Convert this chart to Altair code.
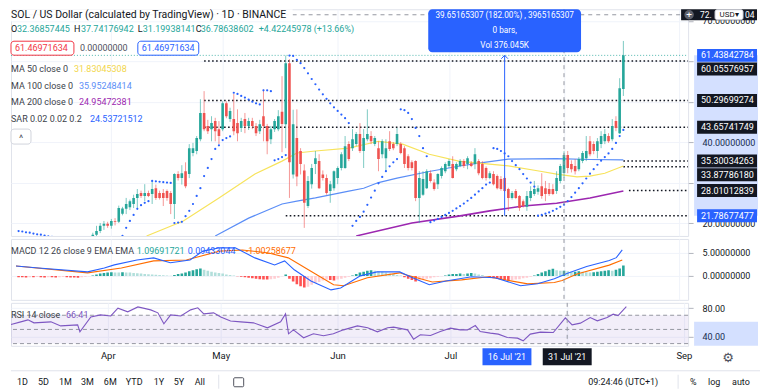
import altair as alt
import pandas as pd

FONT = "Roboto"
W = 678
HP, HM, HR = 227, 61, 43
X_DOMAIN = [-25.7, 154.1]
PRICE_DOMAIN = [16.8, 72.84]
MACD_DOMAIN = [-5.13, 7.9]
RSI_DOMAIN = [26.9, 87.5]

GREEN, RED, BLUE, INK, GRID = "#26a69a", "#ef5350", "#2962ff", "#131722", "#f0f3fa"

# ---------------- daily candles, day offsets counted from 1 Apr 2021 ----------------
FIRST_DAY = -25
opens = [13.5, 14.0, 15.0, 15.4, 15.2, 16.0, 15.3, 14.9, 14.6, 15.2, 15.5, 15.1, 14.5, 14.2, 13.8, 13.4, 13.7, 14.3, 14.8, 15.5, 16.3,
         17.1, 18.0, 19.3, 19.8, 19.3, 20.5, 20.3, 22.3, 23.5, 23.9, 24.7, 26.2, 27.4, 26.7,
         27.4, 27.2, 28.6, 27.4, 27.4, 27.9, 27.4, 24.7, 32.1, 31.1,
         32.8, 32.1, 37.3, 37.8, 40.7, 47.2, 44.0, 43.2, 45.2, 43.2,
         43.2, 49.6, 45.7, 45.7, 44.7, 43.5, 45.7, 44.0, 45.2, 44.0,
         42.7, 46.4, 44.0, 40.7, 43.2, 43.2, 47.5, 44.4, 59.5, 32.0,
         41.0, 37.8, 33.0, 24.2, 29.6, 34.6, 35.3, 32.0, 31.1, 27.9,
         28.6, 31.1, 33.6, 33.6, 39.5, 38.5, 39.5, 42.0, 37.8, 40.7,
         41.5, 39.5, 38.5, 37.0, 36.0, 40.2, 39.5, 39.5, 39.5, 38.5,
         36.5, 35.0, 35.3, 26.2, 27.0, 28.6, 32.3, 30.0, 29.6, 31.6,
         32.8, 34.1, 34.6, 33.3, 34.1, 35.3, 34.6, 34.8, 34.6, 35.3,
         34.6, 33.6, 31.1, 32.1, 31.6, 30.9, 31.1, 28.4, 26.2, 27.9,
         26.7, 25.4, 24.0, 26.2, 27.2, 27.7, 29.1, 28.6, 28.4, 28.4,
         27.9, 30.4, 32.37, 36.8, 34.6, 34.1, 33.3, 35.3, 36.0, 40.2,
         39.5, 37.8, 39.5, 40.2, 41.5, 40.7, 45.2, 42.2, 53.1]
highs = [14.3, 15.2, 16.0, 16.3, 16.5, 16.6, 16.1, 15.4, 15.6, 16.0, 16.2, 15.5, 15.0, 14.6, 14.3, 14.0, 14.6, 15.0, 15.8, 16.6, 17.6,
         19.3, 20.0, 20.5, 20.3, 21.0, 21.2, 24.3, 24.0, 26.2, 25.8, 27.0, 28.4, 28.0, 29.6,
         28.0, 30.4, 29.5, 28.0, 28.4, 28.3, 27.9, 32.3, 32.8, 34.3,
         35.0, 39.5, 39.8, 41.5, 50.6, 52.6, 45.5, 46.4, 46.0, 45.2,
         50.1, 50.1, 48.5, 51.9, 48.1, 46.0, 47.2, 46.0, 46.0, 44.7,
         45.5, 53.0, 44.5, 44.0, 45.7, 47.9, 56.3, 61.4, 60.5, 48.0,
         48.1, 38.5, 34.5, 31.6, 34.6, 37.8, 37.0, 33.0, 32.0, 30.4,
         33.0, 34.0, 37.5, 41.5, 40.2, 43.2, 42.5, 44.7, 43.2, 48.1,
         42.7, 41.5, 40.2, 40.7, 40.7, 42.7, 40.0, 43.5, 40.0, 39.0,
         37.0, 35.5, 35.5, 32.8, 32.8, 33.3, 33.0, 30.8, 32.3, 34.0,
         35.0, 35.8, 36.5, 35.0, 35.8, 35.8, 36.5, 35.3, 38.5, 35.8,
         35.3, 34.0, 32.8, 32.8, 32.0, 31.6, 31.5, 28.7, 27.9, 28.4,
         26.9, 25.8, 27.9, 29.1, 30.4, 29.3, 32.3, 30.4, 29.9, 29.6,
         32.8, 34.6, 37.74, 37.8, 35.5, 35.8, 36.3, 37.8, 41.5, 41.5,
         40.2, 41.0, 42.7, 43.2, 42.2, 45.7, 46.4, 55.8, 65.0]
lows = [13.0, 13.8, 14.5, 14.9, 14.8, 15.0, 14.6, 14.0, 14.3, 14.8, 15.0, 14.2, 13.8, 13.5, 13.0, 12.9, 13.4, 13.9, 14.5, 15.2, 16.0,
        16.6, 17.5, 18.3, 18.8, 18.6, 19.4, 20.0, 21.9, 22.2, 23.2, 23.7, 23.7, 26.2, 25.4,
        26.4, 24.7, 25.7, 25.8, 24.2, 25.5, 22.2, 21.0, 30.5, 29.5,
        28.6, 31.1, 36.5, 37.0, 40.2, 42.7, 42.0, 40.2, 40.2, 39.5,
        42.7, 45.9, 45.0, 41.7, 40.2, 42.5, 42.2, 43.0, 43.2, 41.5,
        42.0, 40.2, 37.0, 39.5, 42.5, 42.7, 37.5, 38.5, 26.2, 31.0,
        29.1, 32.0, 18.8, 23.7, 28.5, 32.1, 28.4, 30.5, 27.0, 25.0,
        28.0, 29.6, 33.0, 33.4, 35.3, 37.8, 39.0, 37.3, 33.6, 40.2,
        39.5, 39.0, 32.8, 36.0, 32.8, 37.8, 38.0, 39.0, 37.0, 33.6,
        33.0, 33.0, 25.4, 20.0, 26.7, 28.4, 30.0, 28.0, 28.4, 31.0,
        32.3, 33.6, 31.0, 32.8, 33.8, 33.6, 33.3, 33.8, 33.3, 31.8,
        30.8, 30.5, 30.8, 29.3, 28.3, 28.0, 27.6, 23.0, 25.8, 25.9,
        23.0, 23.8, 23.0, 25.4, 26.7, 27.0, 26.0, 25.4, 26.7, 26.9,
        27.2, 29.8, 31.20, 32.3, 32.5, 32.0, 32.8, 34.8, 35.3, 36.5,
        37.0, 36.0, 38.5, 39.5, 39.8, 40.2, 42.7, 42.0, 51.4]
closes = [14.0, 15.0, 15.4, 15.2, 16.0, 15.3, 14.9, 14.6, 15.2, 15.5, 15.1, 14.5, 14.2, 13.8, 13.4, 13.7, 14.3, 14.8, 15.5, 16.3, 17.1,
          18.0, 19.3, 19.8, 19.3, 20.5, 20.3, 23.7, 23.6, 24.7, 25.4, 26.2, 27.2, 26.7, 27.4,
          26.7, 28.4, 26.2, 26.2, 26.2, 26.2, 24.7, 32.1, 31.1, 32.3,
          29.1, 38.5, 38.5, 41.0, 47.2, 43.2, 42.7, 44.7, 42.7, 41.5,
          49.6, 46.4, 47.7, 42.7, 42.2, 45.2, 44.0, 45.2, 44.0, 42.2,
          44.4, 44.0, 40.2, 43.2, 45.2, 46.4, 44.5, 59.5, 35.0, 44.4,
          31.5, 34.6, 25.0, 30.4, 33.6, 36.0, 28.6, 31.1, 27.4, 29.6,
          32.8, 33.6, 37.0, 39.0, 35.8, 40.7, 42.0, 37.8, 41.0, 42.0,
          40.2, 41.0, 35.8, 40.2, 38.5, 38.3, 38.5, 42.0, 37.3, 34.6,
          33.6, 33.6, 26.2, 31.1, 30.9, 32.8, 30.4, 28.4, 32.1, 33.6,
          34.6, 35.3, 31.1, 34.6, 35.3, 34.1, 36.0, 34.1, 37.0, 32.3,
          31.1, 31.1, 32.3, 29.6, 28.6, 28.4, 27.9, 26.2, 27.4, 26.2,
          23.7, 24.2, 26.7, 27.9, 28.4, 28.6, 26.7, 27.2, 27.2, 27.2,
          31.1, 34.1, 36.79, 33.6, 33.3, 32.8, 35.8, 37.3, 37.8, 37.0,
          37.8, 40.2, 41.5, 42.0, 40.2, 44.0, 43.5, 53.3, 61.43842784]
sar_values = [18.0, 17.9, 17.7, 17.6, 17.4, 17.2, 17.1, 16.9, 16.7,
              16.6, 16.5, 16.4, 16.3, 16.2, 16.1, 16.0, 15.9, 15.8,
              12.9, 13.0, 13.2, 13.4, 13.7, 14.1, 14.6, 15.2, 15.8, 16.3,
              16.8, 18.8, 20.5, 22.0, 23.5, 24.4, 25.0, 25.4,
              30.4, 30.3, 30.2, 30.1, 30.0, 29.9,
              20.0, 20.1, 20.3,
              21.7, 23.0, 24.7, 26.7, 28.6, 31.6, 33.6, 35.8, 38.3, 39.2,
              40.5, 41.0, 41.4,
              52.2, 51.9, 51.4, 51.0, 50.5, 50.0, 49.6, 49.3,
              52.8, 52.8, 52.6,
              35.5, 35.8, 36.3, 36.8,
              61.4, 61.3, 60.3, 59.5, 58.3, 57.0, 55.6, 54.3, 53.0, 51.8, 50.7, 49.6, 48.6, 47.7, 46.8, 45.9, 44.7,
              19.3, 20.5, 21.5, 22.8, 24.5, 26.3, 28.0, 29.8, 31.4, 32.8, 34.0, 35.0, 35.8,
              48.1, 47.9, 47.2, 45.7, 43.5, 41.5, 38.5, 36.5,
              20.2, 20.6, 21.0, 21.5, 22.0, 22.5, 23.0, 23.6, 24.2, 24.8, 25.5, 26.2, 27.0, 27.8, 28.6, 29.5, 30.0,
              38.5, 38.3, 37.8, 37.2, 36.5, 35.3, 34.3, 33.3, 32.1, 31.0, 30.0, 29.0,
              21.8, 22.0, 22.3, 22.6, 23.0, 23.5, 24.0, 24.54, 25.4, 26.4, 27.5, 28.6, 29.8, 31.0, 32.2, 33.3,
              34.4, 35.4, 36.3, 37.2, 38.3, 39.8, 41.5, 43.0]
macd_hist = [-0.3, -0.3, -0.35, -0.3, -0.3, -0.25, -0.3,
             -0.35, -0.3, -0.3, -0.35, -0.3, -0.25, -0.3, -0.35,
             -0.35, -0.4, -0.3, -0.2, -0.1,
             0.1, 0.3, 0.5, 0.6, 0.7,
             0.8, 0.75, 0.7, 0.8, 0.75, 0.7, 0.6,
             0.55, 0.5, 0.4, 0.35, 0.3, 0.25, 0.2, 0.15, 0.1,
             0.05, 0.2, 0.4, 0.5,
             0.7, 1.0, 1.2, 1.4, 1.6,
             1.3, 1.1, 0.9, 0.7, 0.6, 0.5, 0.3,
             0.2, 0.1, -0.1, -0.2,
             -0.3, -0.4, -0.5, -0.6, -0.7, -0.75, -0.8, -0.7, -0.6,
             -0.4, -0.1, 0.3,
             -0.6, -1.2, -1.8, -2.2, -2.5, -2.3,
             -1.9, -1.5, -1.3, -1.0, -0.8,
             -0.9, -1.0, -0.8, -0.6,
             -0.4, -0.2, 0.1, 0.4,
             0.7, 0.9, 1.1, 1.2, 1.1, 1.0, 0.9,
             0.7, 0.5, 0.4, 0.2, 0.1,
             -0.3, -0.6, -0.9, -1.2, -1.0, -0.8,
             -0.6, -0.5, -0.3, -0.2, -0.1, 0.1,
             0.3, 0.4, 0.4, 0.5, 0.4, 0.5, 0.6,
             0.5, 0.3, 0.2, 0.0,
             -0.3, -0.5, -0.6, -0.8, -0.9, -1.0, -0.9,
             -0.8, -0.7, -0.5, -0.4, -0.2, 0.1,
             0.4, 0.7, 1.0, 1.3, 1.5,
             1.2, 1.1, 1.1, 1.0, 0.9,
             0.9, 1.0, 0.9, 0.8, 0.7, 0.8, 0.9,
             1.0, 1.1, 1.2, 1.1, 1.3, 1.6, 2.2]

# ---------------- indicator lines (read at sample days) ----------------
ma50_days = [9.5, 19.4, 29, 38.7, 46, 50, 55, 64, 72, 78.5, 85.7, 93.6, 99, 107, 115.6, 120, 125.5, 129, 133, 138]
ma50_values = [16.8, 20.5, 26.2, 32.1, 35.3, 37.3, 37.8, 38.5, 40.2, 39.5, 37.0, 35.3, 34.8, 34.1, 32.8, 32.1, 31.4, 31.6, 32.3, 34.1]
ma100_days = [28, 37, 46, 50, 55, 64, 68, 72, 77, 86, 94, 99, 107, 120, 129, 138]
ma100_values = [16.8, 21.2, 24.7, 25.4, 26.2, 27.9, 28.6, 30.0, 31.1, 32.8, 34.1, 34.8, 35.8, 35.9, 35.7, 35.6]
ma200_days = [66, 81, 93.6, 102, 111, 120, 129, 138]
ma200_values = [16.8, 20.0, 21.7, 23.0, 24.2, 24.9, 26.2, 27.9]

macd_days = [-25.7, -19.6, -6.4, -1.9, 0.8, 6.9, 11.4, 15.9, 21.2, 24.7, 29.2, 33.4, 38.7, 44.0, 46.7, 49.3, 53.8, 59.2,
             61.8, 67.1, 71.6, 77.7, 81.2, 85.7, 90.2, 97.1, 103.4, 110.3, 114.9, 119.4, 122.8, 128.1, 134.2, 136.1, 137.7]
macd_values = [2.1, 1.7, 0.85, 1.7, 2.35, 3.4, 3.85, 2.8, 3.4, 5.3, 6.0, 6.0, 3.85, 2.35, 3.2, 1.3, -1.1, -3.0,
               -2.6, 0.0, 0.85, 0.85, -0.4, -1.9, -1.1, -0.2, -0.4, -2.1, -1.7, -0.6, 0.5, 2.0, 3.3, 3.9, 5.55]
signal_days = [-25.7, -6.4, 2.7, 11.4, 20.2, 29.2, 35.3, 42.4, 47.7, 53.1, 59.9, 62.6, 69.0, 77.7, 79.6, 86.5, 94.4,
               101.6, 112.2, 119.4, 121.5, 125.5, 134.2, 137.7]
signal_values = [2.1, 0.65, 1.7, 3.2, 3.4, 5.3, 5.55, 4.9, 3.85, 1.3, -1.9, -2.1, -0.4, 0.65, 0.2, -1.3, -0.85,
                 -0.2, -1.7, -1.4, -1.0, 0.4, 2.3, 3.4]
rsi_days = [-25.7, -23.1, -21.2, -19.6, -15.1, -12.5, -8.0, -7.4, -4.5, -1.9, 0.8, 2.7, 5.3, 8.0, 11.4, 13.3, 14.9,
            16.7, 19.4, 22.0, 23.9, 25.5, 28.1, 30.0, 32.6, 35.3, 38.7, 42.4, 45.9, 47.2, 48.0, 49.3, 52.0, 54.6,
            57.3, 59.9, 62.6, 66.3, 69.0, 71.6, 74.3, 75.9, 79.6, 81.2, 83.0, 85.7, 88.3, 91.0, 93.6, 95.5, 97.6,
            98.9, 101.6, 103.7, 106.1, 108.8, 110.3, 112.2, 114.9, 118.3, 121.5, 123.3, 125.5, 128.1, 130.0, 132.6,
            134.2, 135.5, 137.7]
rsi_values = [57, 60.7, 63.5, 59.3, 60.7, 55, 56.5, 46.6, 67.7, 70.5, 69, 80, 74.8, 81.8, 77.6, 73.4, 58,
              70.5, 69, 77.6, 80.5, 71.9, 73.4, 67.7, 62, 60.7, 59.3, 52.3, 60.7, 72, 43.8, 49.4, 38.2, 43.8,
              41, 43.8, 49.4, 55, 52.3, 46.6, 52.3, 53.2, 49.4, 36.3, 42.4, 41.4, 47, 51.8, 49.4, 49.4, 55.5,
              47, 44.8, 43.4, 38.6, 37.7, 33.9, 43.4, 46.2, 45.6, 66.4, 56.5, 58.9, 66.8, 62.1, 66.8,
              71.5, 69.6, 82.3]
rsi_levels = [70, 50, 30]

# ---------------- axis ticks and drawings ----------------
month_days = [0, 30, 61, 91, 122, 153]
month_names = ["Apr", "May", "Jun", "Jul", "", "Sep"]
level_values = [60.05576957, 50.29699274, 43.65741749, 35.30034263, 33.87786180, 28.01012839, 21.78677477]
level_starts = [25, 25, 25, 138, 138, 139.5, 47]
measure_day = 106
cross_day = 122
cross_price = 71.48

# ---------------- tables ----------------
days = list(range(FIRST_DAY, FIRST_DAY + len(opens)))
candles = pd.DataFrame({"d": days, "open": opens, "high": highs, "low": lows, "close": closes,
                        "sar": sar_values, "hist": macd_hist})
candles["col"] = [GREEN if c >= o else RED for o, c in zip(opens, closes)]
hcols = []
prev = 0.0
for h in macd_hist:
    if h >= 0:
        hcols.append("#26a69a" if h >= prev else "#b2dfdb")
    else:
        hcols.append("#ff5252" if h <= prev else "#ffcdd2")
    prev = h
candles["hcol"] = hcols

last_price = closes[-1]
levels = pd.DataFrame({"level": level_values, "start": level_starts})
boxes = pd.DataFrame({"level": [last_price] + level_values})
boxes["text"] = [f"{v:.8f}" for v in boxes["level"]]
boxes["fill"] = [BLUE if v in (last_price, level_values[-1]) else INK for v in boxes["level"]]
shifted = [level_values[0], level_values[4]]
boxes_main = boxes[~boxes["level"].isin(shifted)]
boxes_shift = boxes[boxes["level"].isin(shifted)]
measure = pd.DataFrame({"d": [measure_day], "lo": [level_values[-1]], "hi": [last_price]})
cross_d = pd.DataFrame({"d": [cross_day]})
one = pd.DataFrame({"k": [0]})

# ---------------- scales / axes ----------------
xscale = alt.Scale(domain=X_DOMAIN, nice=False, zero=False)
label_expr = "".join(f"datum.value == {d} ? '{n}' : " for d, n in zip(month_days, month_names)) + "''"
x_hidden = alt.Axis(values=month_days, grid=True, gridColor=GRID, labels=False, ticks=False, domain=False,
                    title=None, minExtent=0, maxExtent=0)
x_bottom = alt.Axis(values=month_days, grid=True, gridColor=GRID, labelExpr=label_expr, ticks=False, domain=False,
                    title=None, labelPadding=5, labelFontSize=9.5, labelColor=INK, labelFont=FONT,
                    labelFlush=False, minExtent=16, maxExtent=16)


def X(field, axis):
    return alt.X(f"{field}:Q", scale=xscale, axis=axis)


def right_axis(values, expr):
    return alt.Axis(orient="right", values=values, labelExpr=expr, grid=True, gridColor=GRID, domain=False,
                    tickSize=5, tickColor="#b2b5be", labelColor=INK, labelFontSize=9, labelFont=FONT,
                    labelPadding=9, title=None, minExtent=69, maxExtent=69)


price_axis = right_axis([20, 30, 40, 50, 60, 70],
                       "indexof([20, 40, 70], datum.value) >= 0 ? format(datum.value, '.8f') : ''")
macd_axis = right_axis([0, 5], "format(datum.value, '.8f')")
rsi_axis = right_axis([40, 80], "format(datum.value, '.2f')")


def PY(field):
    return alt.Y(f"{field}:Q", scale=alt.Scale(domain=PRICE_DOMAIN, nice=False, zero=False), axis=price_axis)


def MY(field):
    return alt.Y(f"{field}:Q", scale=alt.Scale(domain=MACD_DOMAIN, nice=False, zero=False), axis=macd_axis, stack=None)


def RY(field):
    return alt.Y(f"{field}:Q", scale=alt.Scale(domain=RSI_DOMAIN, nice=False, zero=False), axis=rsi_axis)


def note(text, x, y, color=INK, size=9, align="left", font=FONT, weight="normal"):
    return alt.Chart(one).mark_text(text=text, align=align, baseline="middle", fontSize=size, font=font,
                                    color=color, fontWeight=weight).encode(x=alt.value(x), y=alt.value(y))


def box(x1, x2, y1, y2, fill, stroke=None, radius=0, opacity=1.0):
    kw = dict(fill=fill, cornerRadius=radius, opacity=opacity)
    if stroke:
        kw.update(stroke=stroke, strokeWidth=1)
    return alt.Chart(one).mark_rect(**kw).encode(x=alt.value(x1), x2=alt.value(x2), y=alt.value(y1), y2=alt.value(y2))


def line(xs, ys, color, width=1.1):
    df = pd.DataFrame({"d": xs, "v": ys})
    return alt.Chart(df).mark_line(color=color, strokeWidth=width, clip=True).encode(x=X("d", x_hidden), y=PY("v"))


# ---------------- price pane ----------------
p_layers = [
    alt.Chart(boxes.head(1)).mark_rule(color=GREEN, strokeDash=[1, 2], strokeWidth=1, opacity=0.8).encode(
        x=alt.value(0), x2=alt.value(W), y=PY("level")),
    alt.Chart(levels).mark_rule(color=INK, strokeDash=[1.6, 2.4], strokeWidth=1.5, clip=True).encode(
        x=X("start", x_hidden), x2=alt.value(W), y=PY("level")),
    line(ma200_days, ma200_values, "#9c27b0", 1.6),
    line(ma100_days, ma100_values, "#5b8ef7", 1.2),
    line(ma50_days, ma50_values, "#f7e35c", 1.2),
    alt.Chart(candles).mark_rule(strokeWidth=1, opacity=0.6, clip=True).encode(
        x=X("d", x_hidden), y=PY("low"), y2="high:Q", color=alt.Color("col:N", scale=None)),
    alt.Chart(candles).mark_bar(size=2.6, opacity=1, clip=True).encode(
        x=X("d", x_hidden), y=PY("open"), y2="close:Q", color=alt.Color("col:N", scale=None)),
    alt.Chart(candles).mark_circle(size=5, opacity=1, color=BLUE, clip=True).encode(x=X("d", x_hidden), y=PY("sar")),
    alt.Chart(measure).mark_rule(color=BLUE, strokeWidth=1).encode(x=X("d", x_hidden), y=PY("lo"), y2="hi:Q"),
    alt.Chart(measure).mark_point(shape="M-1,1L0,0L1,1", filled=False, color=BLUE, strokeWidth=1, size=45,
                                  opacity=1).encode(x=X("d", x_hidden), y=PY("hi")),
    alt.Chart(cross_d).mark_rule(color="#9598a1", strokeDash=[4, 4], strokeWidth=1).encode(x=X("d", x_hidden)),
    alt.Chart(pd.DataFrame({"p": [cross_price]})).mark_rule(color="#9598a1", strokeDash=[4, 4],
                                                            strokeWidth=1).encode(y=PY("p")),
    # measure label
    alt.Chart(measure).mark_tick(orient="horizontal", size=153, thickness=43, color=BLUE, opacity=1,
                                 cornerRadius=4).encode(x=X("d", x_hidden), y=alt.value(21.5)),
    alt.Chart(measure).mark_text(text="39.65165307 (182.00%) , 3965165307", color="white", fontSize=8.2,
                                 font=FONT).encode(x=X("d", x_hidden), y=alt.value(7)),
    alt.Chart(measure).mark_text(text="0 bars,", color="white", fontSize=8.2, font=FONT).encode(
        x=X("d", x_hidden), y=alt.value(22)),
    alt.Chart(measure).mark_text(text="Vol 376.045K", color="white", fontSize=8.2, font=FONT).encode(
        x=X("d", x_hidden), y=alt.value(37)),
    # legend (white backing under the title, as the crosshair passes behind it)
    box(0, 282, 0, 12, "white", None, 0, 0.9),
    note("SOL / US Dollar (calculated by TradingView) · 1D · BINANCE", 0, 6, INK, 10.5),
    note("O", 0, 20, INK), note("32.36857445", 6, 20, GREEN),
    note("H", 63, 20, INK), note("37.74176942", 70, 20, GREEN),
    note("L", 127, 20, INK), note("31.19938141", 132, 20, GREEN),
    note("C", 185, 20, INK), note("36.78638602", 190, 20, GREEN),
    note("+4.42245978 (+13.66%)", 248, 20, GREEN),
    box(0, 63, 32, 46, "white", "#f23645", 3), note("61.46971634", 4, 39, "#f23645"),
    note("0.00000000", 69, 39, "#50535e"),
    box(127, 188, 32, 46, "white", BLUE, 3), note("61.46971634", 131, 39, BLUE),
    note("MA 50 close 0", 0, 60, "#3b3f4a"), note("31.83045308", 63, 60, "#f2d64b"),
    note("MA 100 close 0", 0, 77, "#3b3f4a"), note("35.95248414", 68, 77, "#5b8ef7"),
    note("MA 200 close 0", 0, 93, "#3b3f4a"), note("24.95472381", 68, 93, "#9c27b0"),
    note("SAR 0.02 0.02 0.2", 0, 110, "#3b3f4a"), note("24.53721512", 79, 110, BLUE),
    box(0, 20, 120, 135, "white", "#d1d4dc", 3), note("^", 10, 129, "#50535e", 10, "center"),
    # price scale decorations
    alt.Chart(measure).mark_rect(color=BLUE, opacity=0.2).encode(
        x=alt.value(W + 6), x2=alt.value(W + 70), y=PY("lo"), y2="hi:Q"),
    alt.Chart(boxes_main).mark_tick(orient="horizontal", size=60, thickness=13, opacity=1).encode(
        x=alt.value(W + 39), y=PY("level"), color=alt.Color("fill:N", scale=None)),
    alt.Chart(boxes_main).mark_text(align="left", color="white", fontSize=9, font=FONT).encode(
        x=alt.value(W + 13), y=PY("level"), text="text:N"),
    alt.Chart(boxes_shift).mark_tick(orient="horizontal", size=60, thickness=13, opacity=1, yOffset=8).encode(
        x=alt.value(W + 39), y=PY("level"), color=alt.Color("fill:N", scale=None)),
    alt.Chart(boxes_shift).mark_text(align="left", color="white", fontSize=9, font=FONT, yOffset=8).encode(
        x=alt.value(W + 13), y=PY("level"), text="text:N"),
    alt.Chart(pd.DataFrame({"p": [cross_price]})).mark_tick(orient="horizontal", size=76, thickness=11,
                                                            color=INK, opacity=1).encode(
        x=alt.value(W + 31), y=PY("p")),
    note("72.", W + 12, 5.5, "white", 8.5), note("04", W + 57, 5.5, "white", 8.5),
    box(W + 27, W + 55, 0.5, 10.5, "white", "#d1d4dc", 2), note("USD▾", W + 41, 5.5, INK, 8, "center"),
    alt.Chart(one).mark_point(shape="circle", filled=True, color="#5d606b", size=90, opacity=1).encode(
        x=alt.value(W + 1), y=alt.value(5.5)),
    note("+", W + 1, 5.5, "white", 10, "center"),
]
price = alt.layer(*p_layers).properties(width=W, height=HP)

# ---------------- MACD pane ----------------
m_layers = [
    alt.Chart(candles).mark_bar(size=2.6, opacity=1, clip=True).encode(
        x=X("d", x_hidden), y=MY("hist"), color=alt.Color("hcol:N", scale=None)),
    alt.Chart(pd.DataFrame({"d": signal_days, "v": signal_values})).mark_line(
        color="#ff6d00", strokeWidth=1.1, clip=True).encode(x=X("d", x_hidden), y=MY("v")),
    alt.Chart(pd.DataFrame({"d": macd_days, "v": macd_values})).mark_line(
        color=BLUE, strokeWidth=1.1, clip=True).encode(x=X("d", x_hidden), y=MY("v")),
    alt.Chart(cross_d).mark_rule(color="#9598a1", strokeDash=[4, 4], strokeWidth=1).encode(x=X("d", x_hidden)),
    note("MACD 12 26 close 9 EMA EMA", 0, 12, "#3b3f4a"),
    note("1.09691721", 126, 12, GREEN), note("0.09433044", 177, 12, BLUE),
    note("-1.00258677", 235, 12, "#ff6d00"),
]
macd = alt.layer(*m_layers).properties(width=W, height=HM)

# ---------------- RSI pane ----------------
rsi_band = pd.DataFrame({"top": [rsi_levels[0]], "bottom": [rsi_levels[-1]]})
time_marks = pd.DataFrame({"d": [measure_day, cross_day], "text": ["16 Jul '21", "31 Jul '21"], "fill": [BLUE, INK]})
r_layers = [
    alt.Chart(rsi_band).mark_rect(color="#7e57c2", opacity=0.1).encode(
        x=alt.value(0), x2=alt.value(W), y=RY("top"), y2="bottom:Q"),
    alt.Chart(pd.DataFrame({"lv": rsi_levels})).mark_rule(color="#9598a1", strokeDash=[4, 3], strokeWidth=1).encode(
        y=RY("lv")),
    alt.Chart(pd.DataFrame({"d": rsi_days, "v": rsi_values})).mark_line(
        color="#7e57c2", strokeWidth=1.1, clip=True).encode(x=X("d", x_bottom), y=RY("v")),
    alt.Chart(cross_d).mark_rule(color="#9598a1", strokeDash=[4, 4], strokeWidth=1).encode(x=X("d", x_bottom)),
    note("RSI 14 close", 0, 12, "#3b3f4a"), note("66.41", 55, 12, "#7e57c2"),
    box(W + 6, W + 70, 19, HR, BLUE, None, 0, 0.2),
    alt.Chart(time_marks).mark_tick(orient="horizontal", size=49, thickness=17, opacity=1).encode(
        x=X("d", x_bottom), y=alt.value(HR + 11), color=alt.Color("fill:N", scale=None)),
    alt.Chart(time_marks).mark_text(color="white", fontSize=9, font=FONT).encode(
        x=X("d", x_bottom), y=alt.value(HR + 11), text="text:N"),
    note("⚙", W + 40, HR + 12, "#50535e", 13, "center", "DejaVu Sans"),
    # bottom toolbar
    alt.Chart(one).mark_rule(color="#e0e3eb").encode(x=alt.value(0), x2=alt.value(W + 72), y=alt.value(HR + 25)),
    note("1D", 6, HR + 36), note("5D", 27, HR + 36), note("1M", 48, HR + 36), note("3M", 70, HR + 36),
    note("6M", 93, HR + 36), note("YTD", 115, HR + 36), note("1Y", 143, HR + 36), note("5Y", 163, HR + 36),
    note("All", 184, HR + 36),
    alt.Chart(one).mark_rule(color="#e0e3eb").encode(x=alt.value(208), y=alt.value(HR + 29), y2=alt.value(HR + 43)),
    box(223, 233, HR + 32, HR + 41, "white", "#50535e", 1),
    note("09:24:46 (UTC+1)", 578, HR + 36),
    alt.Chart(one).mark_rule(color="#e0e3eb").encode(x=alt.value(668), y=alt.value(HR + 29), y2=alt.value(HR + 43)),
    note("%", 680, HR + 36), note("log", 698, HR + 36), note("auto", 722, HR + 36),
]
rsi = alt.layer(*r_layers).properties(width=W, height=HR)

chart = alt.vconcat(price, macd, rsi, spacing=1).properties(
    padding={"left": 2, "top": 0, "right": 0, "bottom": 0}
).configure_view(stroke="#e0e3eb").configure_axis(labelFont=FONT)

chart.save("out.html", embed_options={"renderer": "svg", "actions": False})
